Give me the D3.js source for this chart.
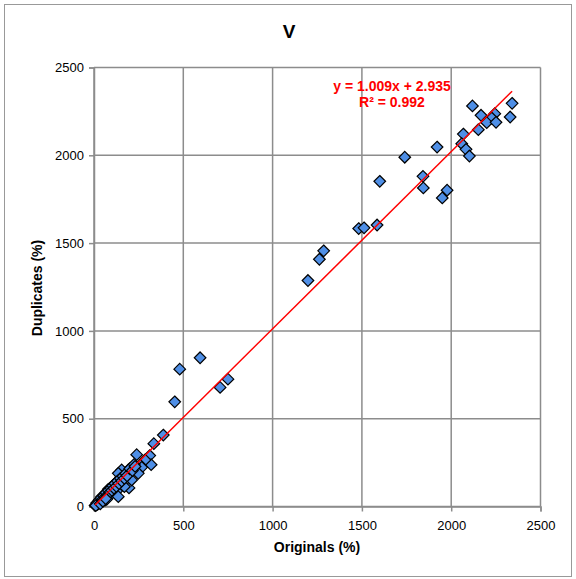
<!DOCTYPE html>
<html>
<head>
<meta charset="utf-8">
<script src="https://cdn.jsdelivr.net/npm/d3@7"></script>
<style>
  body { margin: 0; background: #fff; }
  svg text { font-family: "Liberation Sans", Arial, sans-serif; }
</style>
</head>
<body>
<div id="chart"></div>
<script>
// values
const originals = [
    2119, 2341, 2167, 2244, 2227, 2199, 2251, 2330, 2068, 2152,
    1921, 2059, 2083, 2102, 1842, 1844, 1977, 1950, 1740, 1600,
    1482, 1512, 1585, 1286, 1262, 1198, 594, 480, 452, 706,
    750, 388, 335, 239, 312, 320, 286, 258, 267, 192,
    196, 151, 127, 211, 170, 127, 90, 62, 24, 6,
    155, 248, 136, 80, 43, 108, 136, 90, 71,
    15, 20, 28, 33, 40, 48, 55, 60, 68, 75,
    82, 88, 95, 100, 105, 112, 118, 125, 132, 140,
    148, 155, 162, 170, 178, 185, 200, 215, 225, 230,
    10, 35, 50, 65
];
const duplicates = [
    2281, 2296, 2228, 2237, 2212, 2186, 2188, 2218, 2121, 2146,
    2047, 2066, 2034, 1996, 1880, 1814, 1801, 1757, 1989, 1852,
    1583, 1587, 1603, 1456, 1408, 1287, 847, 782, 596, 678,
    725, 407, 358, 295, 290, 238, 265, 236, 223, 208,
    106, 174, 141, 151, 113, 88, 65, 37, 18, 6,
    208, 189, 56, 98, 56, 122, 189, 104, 41,
    20, 12, 35, 25, 48, 40, 62, 52, 78, 65,
    92, 80, 105, 92, 118, 104, 130, 115, 145, 130,
    160, 145, 172, 160, 188, 175, 215, 205, 240, 228,
    5, 15, 30, 45
];
const ticks = [0, 500, 1000, 1500, 2000, 2500];
const slope = 1.009;
const intercept = 2.935;
const equationLines = ["y = 1.009x + 2.935", "R² = 0.992"];

const width = 576;
const height = 579;
const plotLeft = 94, plotRight = 540.5, plotTop = 67.5, plotBottom = 506.5;

const svg = d3.select("#chart")
    .append("svg")
    .attr("width", width)
    .attr("height", height);

// outer frame
svg.append("rect")
    .attr("x", 4.5).attr("y", 4.5)
    .attr("width", 567).attr("height", 572)
    .attr("fill", "#fff")
    .attr("stroke", "#999")
    .attr("stroke-width", 1);

const x = d3.scaleLinear().domain([0, 2500]).range([plotLeft, plotRight]);
const y = d3.scaleLinear().domain([0, 2500]).range([plotBottom, plotTop]);

// grid lines
svg.selectAll(".vgrid")
    .data(ticks)
    .join("line")
    .attr("x1", d => x(d)).attr("x2", d => x(d))
    .attr("y1", plotTop).attr("y2", plotBottom)
    .attr("stroke", "#8c8c8c")
    .attr("stroke-width", 1.5);

svg.selectAll(".hgrid")
    .data(ticks)
    .join("line")
    .attr("x1", plotLeft).attr("x2", plotRight)
    .attr("y1", d => y(d)).attr("y2", d => y(d))
    .attr("stroke", "#8c8c8c")
    .attr("stroke-width", 1.5);

// axes
const xAxis = svg.append("g")
    .attr("transform", `translate(0,${plotBottom})`)
    .call(d3.axisBottom(x).tickValues(ticks).tickSize(5).tickPadding(9).tickFormat(d3.format("d")));
const yAxis = svg.append("g")
    .attr("transform", `translate(${plotLeft},0)`)
    .call(d3.axisLeft(y).tickValues(ticks).tickSize(5).tickPadding(5).tickFormat(d3.format("d")));

[xAxis, yAxis].forEach(g => {
    g.select(".domain").attr("stroke", "#8c8c8c").attr("stroke-width", 1.5);
    g.selectAll(".tick line").attr("stroke", "#8c8c8c").attr("stroke-width", 1.5);
    g.selectAll(".tick text")
        .attr("fill", "#000")
        .attr("font-size", "13px")
        .attr("font-family", "'Liberation Sans', Arial, sans-serif");
});

// points
const points = originals.map((v, i) => ({ x: v, y: duplicates[i] }));
svg.selectAll(".dot")
    .data(points)
    .join("path")
    .attr("transform", d => `translate(${x(d.x)},${y(d.y)})`)
    .attr("d", "M0,-5.8L5.8,0L0,5.8L-5.8,0Z")
    .attr("fill", "#4f8fe6")
    .attr("stroke", "#000")
    .attr("stroke-width", 1.2);

// trend line
const xMin = d3.min(originals), xMax = d3.max(originals);
svg.append("line")
    .attr("x1", x(xMin)).attr("y1", y(slope * xMin + intercept))
    .attr("x2", x(xMax)).attr("y2", y(slope * xMax + intercept))
    .attr("stroke", "#ff0000")
    .attr("stroke-width", 1.5);

// equation
svg.selectAll(".eq")
    .data(equationLines)
    .join("text")
    .attr("x", 392)
    .attr("y", (d, i) => 91 + i * 16)
    .attr("text-anchor", "middle")
    .attr("font-size", "14px")
    .attr("font-weight", "bold")
    .attr("fill", "#ff0000")
    .text(d => d);

// title and axis titles
svg.append("text")
    .attr("x", 289).attr("y", 38)
    .attr("text-anchor", "middle")
    .attr("font-size", "19px")
    .attr("font-weight", "bold")
    .text("V");

svg.append("text")
    .attr("x", 317).attr("y", 552)
    .attr("text-anchor", "middle")
    .attr("font-size", "14px")
    .attr("font-weight", "bold")
    .text("Originals (%)");

svg.append("text")
    .attr("transform", "translate(42,288) rotate(-90)")
    .attr("text-anchor", "middle")
    .attr("font-size", "14px")
    .attr("font-weight", "bold")
    .text("Duplicates (%)");
</script>
</body>
</html>
